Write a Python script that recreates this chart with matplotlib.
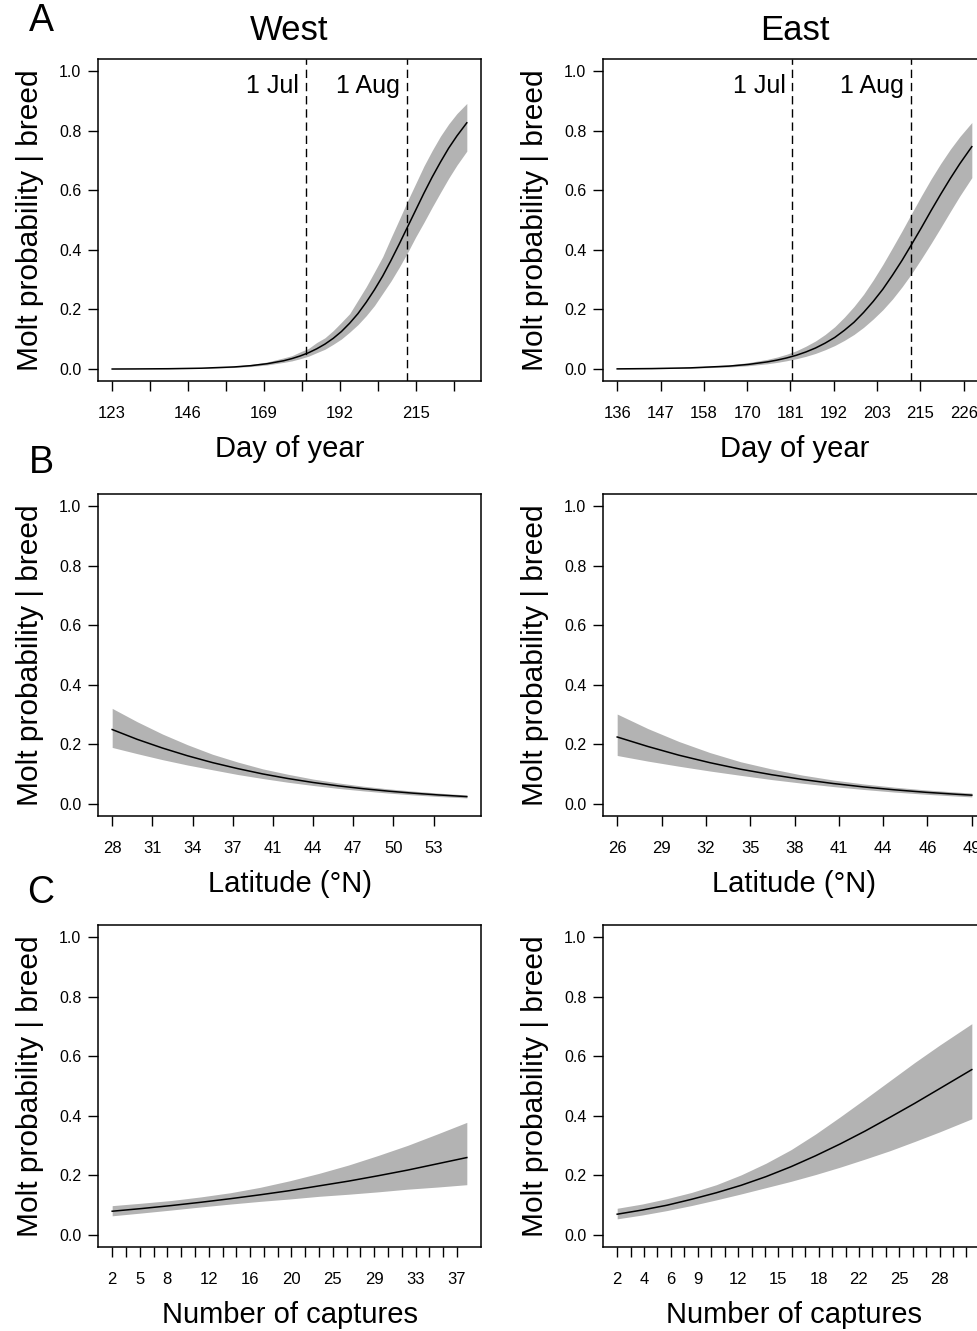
import matplotlib.pyplot as plt
import numpy as np

plt.rcParams['font.family'] = ['Liberation Sans', 'DejaVu Sans']

# ---- A: day of year ----
west_day = [123, 130, 140, 150, 160, 165, 170, 175, 177.5, 180, 182.5, 185, 187.5, 190, 192.5,
            195, 197.5, 200, 202.5, 205, 207.5, 210, 212.5, 215, 217.5, 220, 222.5, 225, 227.5, 230.5]
west_day_fit = [0.0002, 0.0005, 0.0012, 0.0029, 0.0072, 0.0114, 0.018, 0.028, 0.0352, 0.044,
                0.0547, 0.068, 0.0838, 0.103, 0.126, 0.154, 0.186, 0.224, 0.266, 0.312,
                0.364, 0.419, 0.476, 0.533, 0.590, 0.644, 0.694, 0.741, 0.782, 0.826]
west_day_lo = [0.0001, 0.0003, 0.0008, 0.0020, 0.0053, 0.0086, 0.0139, 0.0224, 0.0275, 0.0348,
               0.0431, 0.055, 0.0665, 0.083, 0.101, 0.124, 0.149, 0.179, 0.213, 0.254,
               0.295, 0.341, 0.390, 0.443, 0.492, 0.543, 0.592, 0.640, 0.684, 0.731]
west_day_hi = [0.0005, 0.0008, 0.0019, 0.0043, 0.0099, 0.0156, 0.0237, 0.0376, 0.045, 0.0577,
               0.0691, 0.089, 0.105, 0.129, 0.157, 0.186, 0.231, 0.276, 0.326, 0.377,
               0.440, 0.501, 0.563, 0.622, 0.681, 0.733, 0.781, 0.822, 0.857, 0.891]
west_day_ticks = [123, 134.5, 146, 157.5, 169, 180.5, 192, 203.5, 215, 226.5]
west_day_labels = ['123', '', '146', '', '169', '', '192', '', '215', '']
west_dates = [181.7, 212.4]

east_day = [136, 145, 155, 165, 170, 175, 177.5, 180, 182.5, 185, 187.5, 190, 192.5, 195,
            197.5, 200, 202.5, 205, 207.5, 210, 212.5, 215, 217.5, 220, 222.5, 225, 228.1]
east_day_fit = [0.0007, 0.0017, 0.0041, 0.0099, 0.0155, 0.0241, 0.0300, 0.0373, 0.0462, 0.0573,
                0.0706, 0.087, 0.106, 0.130, 0.157, 0.190, 0.227, 0.268, 0.315, 0.365,
                0.419, 0.474, 0.531, 0.586, 0.639, 0.689, 0.746]
east_day_lo = [0.0004, 0.0010, 0.0027, 0.0070, 0.0112, 0.0178, 0.0223, 0.0279, 0.0346, 0.0427,
               0.0525, 0.0648, 0.0789, 0.0962, 0.116, 0.140, 0.168, 0.199, 0.235, 0.276,
               0.321, 0.370, 0.421, 0.474, 0.528, 0.581, 0.642]
east_day_hi = [0.0013, 0.0027, 0.0062, 0.0141, 0.0215, 0.0326, 0.0402, 0.0497, 0.0613, 0.0766,
               0.0942, 0.116, 0.142, 0.174, 0.210, 0.251, 0.299, 0.351, 0.407, 0.464,
               0.523, 0.581, 0.637, 0.689, 0.737, 0.780, 0.827]
east_day_ticks = [136, 147.25, 158.5, 169.75, 181, 192.25, 203.5, 214.75, 226]
east_day_labels = ['136', '147', '158', '170', '181', '192', '203', '215', '226']
east_dates = [181.5, 212.2]

date_names = ['1 Jul', '1 Aug']

# ---- B: latitude ----
west_lat = [28, 30, 32, 34, 36, 38, 40, 42, 44, 46, 48, 50, 52, 54, 56.25]
west_lat_fit = [0.250, 0.217, 0.188, 0.162, 0.139, 0.119, 0.101, 0.0857, 0.0724, 0.0611,
                0.0515, 0.0434, 0.0365, 0.0306, 0.0251]
west_lat_lo = [0.190, 0.169, 0.149, 0.131, 0.115, 0.0992, 0.0857, 0.0732, 0.0624, 0.0526,
               0.0443, 0.0369, 0.0307, 0.0254, 0.0206]
west_lat_hi = [0.321, 0.276, 0.235, 0.199, 0.167, 0.141, 0.118, 0.100, 0.0839, 0.0710,
               0.0600, 0.0510, 0.0434, 0.0368, 0.0305]
west_lat_ticks = [28, 31.2, 34.4, 37.6, 40.8, 44, 47.2, 50.4, 53.6]
west_lat_labels = ['28', '31', '34', '37', '41', '44', '47', '50', '53']

east_lat = [26, 28, 30, 32, 34, 36, 38, 40, 42, 44, 46, 48, 49]
east_lat_fit = [0.225, 0.193, 0.164, 0.139, 0.117, 0.0987, 0.0826, 0.0690, 0.0574, 0.0478,
                0.0396, 0.0329, 0.0299]
east_lat_lo = [0.163, 0.144, 0.127, 0.111, 0.0964, 0.0823, 0.0700, 0.0588, 0.0489, 0.0402,
               0.0330, 0.0268, 0.0241]
east_lat_hi = [0.302, 0.253, 0.210, 0.173, 0.142, 0.118, 0.0973, 0.0808, 0.0674, 0.0566,
               0.0475, 0.0402, 0.0370]
east_lat_ticks = [26, 28.875, 31.75, 34.625, 37.5, 40.375, 43.25, 46.125, 49]
east_lat_labels = ['26', '29', '32', '35', '38', '41', '44', '46', '49']

# ---- C: number of captures ----
west_cap = [2, 5, 8, 11, 14, 17, 20, 23, 26, 29, 32, 35, 38]
west_cap_fit = [0.080, 0.089, 0.099, 0.110, 0.122, 0.135, 0.149, 0.165, 0.181, 0.199, 0.218, 0.239, 0.260]
west_cap_lo = [0.0646, 0.0741, 0.0840, 0.0943, 0.104, 0.113, 0.121, 0.130, 0.137, 0.145, 0.154, 0.161, 0.169]
west_cap_hi = [0.0987, 0.107, 0.116, 0.128, 0.142, 0.160, 0.182, 0.207, 0.235, 0.267, 0.301, 0.339, 0.378]
west_cap_ticks = list(np.linspace(2, 37, 26))
west_cap_labels = {0: '2', 2: '5', 4: '8', 7: '12', 10: '16', 13: '20', 16: '25', 19: '29', 22: '33', 25: '37'}

east_cap = [2, 4, 6, 8, 10, 12, 14, 16, 18, 20, 22, 24, 26, 28, 30.6]
east_cap_fit = [0.070, 0.0839, 0.100, 0.120, 0.142, 0.167, 0.196, 0.229, 0.266, 0.306,
                0.349, 0.395, 0.442, 0.491, 0.555]
east_cap_lo = [0.0544, 0.0672, 0.0821, 0.0991, 0.118, 0.138, 0.159, 0.180, 0.203, 0.228,
               0.255, 0.283, 0.314, 0.346, 0.390]
east_cap_hi = [0.0899, 0.104, 0.122, 0.143, 0.169, 0.202, 0.241, 0.286, 0.339, 0.397,
               0.457, 0.518, 0.579, 0.637, 0.709]
east_cap_ticks = list(np.linspace(2, 30.1667, 27))
east_cap_labels = {0: '2', 2: '4', 4: '6', 6: '9', 9: '12', 12: '15', 15: '18', 18: '22', 21: '25', 24: '28'}

yticks = [0.0, 0.2, 0.4, 0.6, 0.8, 1.0]
ylabel = 'Molt probability | breed'

W, H = 977, 1331
fig = plt.figure(figsize=(W / 100, H / 100), dpi=100)


def make_ax(left_px, top_px):
    return fig.add_axes([left_px / W, 1 - (top_px + 322) / H, 383 / W, 322 / H])


def draw(ax, x, fit, lo, hi, ticks, labels, xlabel):
    ax.fill_between(x, lo, hi, color='#b3b3b3', lw=0)
    ax.plot(x, fit, color='black', lw=1.1)
    r = x[-1] - x[0]
    ax.set_xlim(x[0] - 0.04 * r, x[-1] + 0.04 * r)
    ax.set_ylim(-0.04, 1.04)
    ax.set_xticks(ticks)
    if isinstance(labels, dict):
        labels = [labels.get(i, '') for i in range(len(ticks))]
    ax.set_xticklabels(labels, fontsize=12)
    ax.set_yticks(yticks)
    ax.set_yticklabels(['%.1f' % v for v in yticks], fontsize=11.5)
    ax.tick_params(direction='out', length=7, width=1, color='black')
    ax.tick_params(axis='x', pad=11)
    ax.tick_params(axis='y', pad=5)
    for s in ax.spines.values():
        s.set_linewidth(1.1)
    ax.set_ylabel(ylabel, fontsize=21.5, labelpad=11)
    ax.set_xlabel(xlabel, fontsize=21, labelpad=10)


def dates(ax, days):
    for d, name in zip(days, date_names):
        ax.axvline(d, color='black', lw=1, dashes=(6, 3.5))
        ax.annotate(name, (d, 0.95), xytext=(-5, 0), textcoords='offset points',
                    ha='right', va='center', fontsize=18)


ax = make_ax(98, 59)
draw(ax, west_day, west_day_fit, west_day_lo, west_day_hi, west_day_ticks, west_day_labels, 'Day of year')
dates(ax, west_dates)
ax = make_ax(603, 59)
draw(ax, east_day, east_day_fit, east_day_lo, east_day_hi, east_day_ticks, east_day_labels, 'Day of year')
dates(ax, east_dates)

ax = make_ax(98, 494)
draw(ax, west_lat, west_lat_fit, west_lat_lo, west_lat_hi, west_lat_ticks, west_lat_labels, 'Latitude (°N)')
ax = make_ax(603, 494)
draw(ax, east_lat, east_lat_fit, east_lat_lo, east_lat_hi, east_lat_ticks, east_lat_labels, 'Latitude (°N)')

ax = make_ax(98, 925)
draw(ax, west_cap, west_cap_fit, west_cap_lo, west_cap_hi, west_cap_ticks, west_cap_labels, 'Number of captures')
ax = make_ax(603, 925)
draw(ax, east_cap, east_cap_fit, east_cap_lo, east_cap_hi, east_cap_ticks, east_cap_labels, 'Number of captures')

fig.text(289.5 / W, 1 - 30 / H, 'West', ha='center', va='center', fontsize=25)
fig.text(794.5 / W, 1 - 30 / H, 'East', ha='center', va='center', fontsize=25)
for letter, y in zip(['A', 'B', 'C'], [21, 463, 893]):
    fig.text(41 / W, 1 - y / H, letter, ha='center', va='center', fontsize=27)

fig.savefig('out.png', dpi=100)
